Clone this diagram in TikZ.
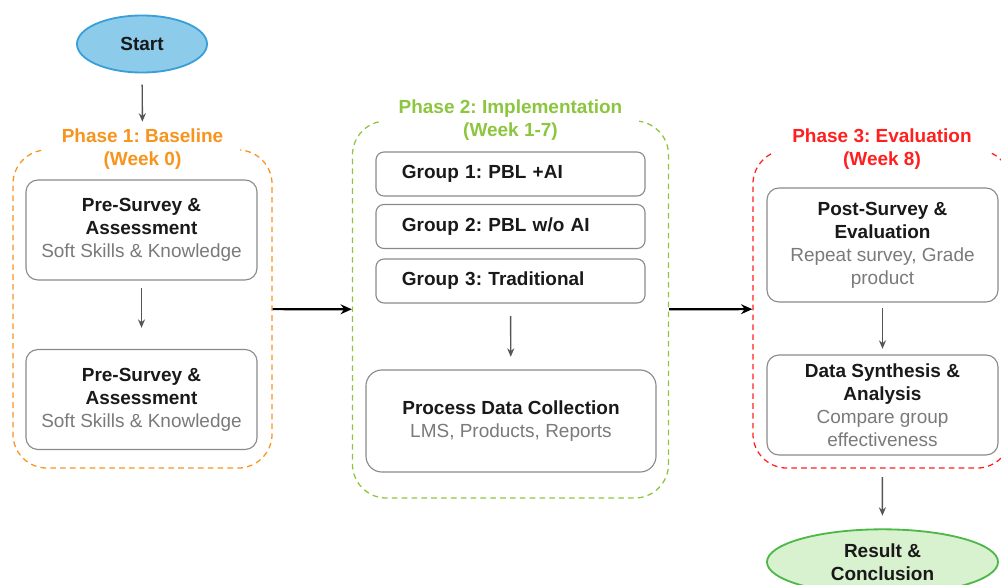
\documentclass[tikz,border=0pt]{standalone}
\usepackage{fontspec}
\setmainfont{Liberation Sans}
\usetikzlibrary{arrows.meta,shapes.geometric,positioning}
\frenchspacing

\definecolor{phaseone}{HTML}{F7941D}
\definecolor{phasetwo}{HTML}{8CC63F}
\definecolor{phasethree}{HTML}{FF1F1F}
\definecolor{startfill}{HTML}{8DCBEB}
\definecolor{startline}{HTML}{3A9FD8}
\definecolor{endfill}{HTML}{D8F1CF}
\definecolor{endline}{HTML}{4DB848}
\definecolor{boxline}{HTML}{8A8A8A}
\definecolor{subtext}{HTML}{7A7A7A}
\definecolor{flowgray}{HTML}{555555}

\begin{document}
\begin{tikzpicture}[
    x=0.025cm, y=-0.025cm,
    every node/.style={font=\fontsize{13.5}{16.3}\selectfont, text=black!90},
    phase/.style={draw=#1, dashed, dash pattern=on 4pt off 3pt, line width=0.9pt, rounded corners=0.85cm, minimum width=6.45cm, minimum height=7.95cm},
    phasetitle/.style={fill=white, text=#1, font=\fontsize{13.5}{16.3}\selectfont\bfseries, align=center, inner xsep=12pt, inner ysep=1pt},
    box/.style={draw=boxline, line width=0.8pt, rounded corners=0.3cm, fill=white, align=center, minimum width=5.775cm, minimum height=2.5cm},
    grp/.style={draw=boxline, line width=0.8pt, rounded corners=0.2cm, fill=white, align=left, minimum width=6.725cm, minimum height=1.1cm, text width=5.425cm, inner xsep=0.65cm, font=\fontsize{13.5}{16.3}\selectfont\bfseries},
    term/.style={ellipse, draw=#1, line width=1.3pt, align=center, font=\fontsize{13.5}{16.3}\selectfont\bfseries},
    flow/.style={-{Stealth[length=6pt, width=5pt]}, draw=flowgray, line width=1pt},
    link/.style={-{Stealth[length=8pt, width=7pt]}, draw=black, line width=1.5pt}
]
\useasboundingbox (0,0) rectangle (1001,585);
\clip (0,0) rectangle (1001,585);

% start
\node[term=startline, fill=startfill, minimum width=3.25cm, minimum height=1.425cm] (start) at (142,44) {Start};

% phase 1
\node[phase=phaseone, minimum width=6.475cm] (p1) at (142.5,309) {};
\node[phasetitle=phaseone] (t1) at (p1.north) {Phase 1: Baseline\\(Week 0)};
\node[box] (pre1) at (141.5,230) {\textbf{Pre-Survey \&}\\\textbf{Assessment}\\\textcolor{subtext}{Soft Skills \& Knowledge}};
\node[box] (pre2) at (141.5,399.5) {\textbf{Pre-Survey \&}\\\textbf{Assessment}\\\textcolor{subtext}{Soft Skills \& Knowledge}};

% phase 2
\node[phase=phasetwo, minimum width=7.9cm, minimum height=9.425cm] (p2) at (510.5,309.5) {};
\node[phasetitle=phasetwo] (t2) at (p2.north) {Phase 2: Implementation\\(Week 1-7)};
\node[grp] (g1) at (510.5,174) {Group 1: PBL +AI};
\node[grp] (g2) at (510.5,226.5) {Group 2: PBL w/o AI};
\node[grp] (g3) at (510.5,281) {Group 3: Traditional};
\node[box, minimum width=7.25cm, minimum height=2.55cm, rounded corners=0.4cm] (proc) at (511,421) {\textbf{Process Data Collection}\\\textcolor{subtext}{LMS, Products, Reports}};

% phase 3
\node[phase=phasethree] (p3) at (882,309) {};
\node[phasetitle=phasethree] (t3) at (p3.north) {Phase 3: Evaluation\\(Week 8)};
\node[box, minimum height=2.85cm] (post) at (882.5,245) {\textbf{Post-Survey \&}\\\textbf{Evaluation}\\\textcolor{subtext}{Repeat survey, Grade}\\\textcolor{subtext}{product}};
\node[box] (synth) at (882.5,405) {\textbf{Data Synthesis \&}\\\textbf{Analysis}\\\textcolor{subtext}{Compare group}\\\textcolor{subtext}{effectiveness}};
\node[term=endline, fill=endfill, minimum width=5.775cm, minimum height=1.45cm] (result) at (882.5,562) {Result \&\\Conclusion};

% arrows
\draw[flow, shorten <=8pt, shorten >=4pt] (start) -- (t1);
\draw[flow, shorten <=5pt, shorten >=15pt] (pre1) -- (pre2);
\draw[flow, shorten <=9pt, shorten >=9pt] (g3) -- (proc);
\draw[flow, shorten <=4pt, shorten >=4pt] (post) -- (synth);
\draw[flow, shorten <=6pt, shorten >=9pt] (p3) -- (result);
\draw[link] (p1) -- (p2);
\draw[link] (p2) -- (p3);
\end{tikzpicture}
\end{document}
